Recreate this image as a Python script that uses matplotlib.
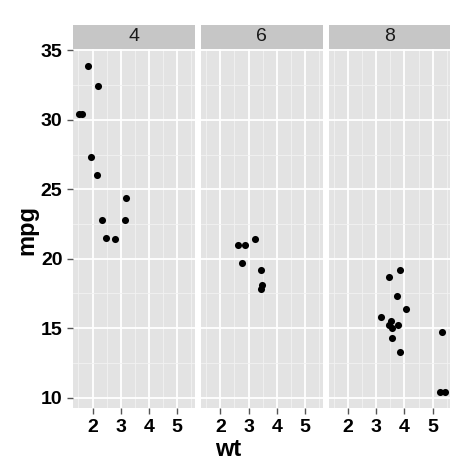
import matplotlib
matplotlib.use("Agg")
import matplotlib.pyplot as plt
import numpy as np

# mtcars: wt vs mpg faceted by cyl
cyl_levels = ["4", "6", "8"]
wt_4 = [2.320, 3.190, 3.150, 2.200, 1.615, 1.835, 2.465, 1.935, 2.140, 1.513, 2.780]
mpg_4 = [22.8, 24.4, 22.8, 32.4, 30.4, 33.9, 21.5, 27.3, 26.0, 30.4, 21.4]
wt_6 = [2.620, 2.875, 3.215, 3.460, 3.440, 3.440, 2.770]
mpg_6 = [21.0, 21.0, 21.4, 18.1, 19.2, 17.8, 19.7]
wt_8 = [3.440, 3.570, 4.070, 3.730, 3.780, 5.250, 5.424, 5.345, 3.520, 3.435, 3.840, 3.845, 3.170, 3.570]
mpg_8 = [18.7, 14.3, 16.4, 17.3, 15.2, 10.4, 10.4, 14.7, 15.5, 15.2, 13.3, 19.2, 15.8, 15.0]
x_ticks = [2, 3, 4, 5]
y_ticks = [10, 15, 20, 25, 30, 35]

groups = [(wt_4, mpg_4), (wt_6, mpg_6), (wt_8, mpg_8)]

all_wt = wt_4 + wt_6 + wt_8
all_mpg = mpg_4 + mpg_6 + mpg_8
xr = max(all_wt) - min(all_wt)
yr = max(all_mpg) - min(all_mpg)
xlim = (min(all_wt) - 0.05 * xr, max(all_wt) + 0.05 * xr)
ylim = (min(all_mpg) - 0.05 * yr, max(all_mpg) + 0.05 * yr)

W = H = 474
fig = plt.figure(figsize=(W / 100, H / 100), dpi=100)
fig.patch.set_facecolor("white")

font = "Liberation Sans"
panel_lefts = [73.3, 201.0, 328.7]
pw = 121.5
ptop, pbot = 49.3, 408.3
stop = 23.7

for i, (lab, (xs, ys)) in enumerate(zip(cyl_levels, groups)):
    l = panel_lefts[i]
    ax = fig.add_axes([l / W, 1 - pbot / H, pw / W, (pbot - ptop) / H])
    ax.set_facecolor("#E3E3E3")
    ax.set_xlim(*xlim)
    ax.set_ylim(*ylim)
    ax.set_xticks(x_ticks)
    ax.set_yticks(y_ticks)
    ax.set_xticks([1.5, 2.5, 3.5, 4.5, 5.5], minor=True)
    ax.set_yticks([12.5, 17.5, 22.5, 27.5, 32.5], minor=True)
    ax.grid(which="major", color="white", lw=1.3)
    ax.grid(which="minor", color="#F2F2F2", lw=0.6)
    ax.set_axisbelow(True)
    for s in ax.spines.values():
        s.set_visible(False)
    ax.tick_params(which="minor", length=0)
    ax.tick_params(which="major", length=4.3, width=1.0, color="#555555", pad=3.5,
                   labelsize=14)
    ax.set_xticklabels([str(t) for t in x_ticks], fontfamily=font, fontweight="bold")
    if i == 0:
        ax.set_yticklabels([str(t) for t in y_ticks], fontfamily=font, fontweight="bold")
    else:
        ax.tick_params(axis="y", length=0, labelleft=False)
    ax.scatter(xs, ys, s=26, color="black", zorder=3, linewidths=0)

    sax = fig.add_axes([l / W, 1 - ptop / H + 0.5 / H, pw / W, (ptop - stop - 1.5) / H])
    sax.set_facecolor("#C6C6C6")
    sax.set_xticks([])
    sax.set_yticks([])
    for s in sax.spines.values():
        s.set_visible(False)
    sax.text(0.5, 0.5, lab, ha="center", va="center", fontsize=14,
             fontfamily=font, color="#1A1A1A", transform=sax.transAxes)

fig.text(228 / W, 1 - 449 / H, "wt", ha="center", va="center", fontsize=17,
         fontweight="bold", fontfamily=font)
fig.text(27 / W, 1 - 230 / H, "mpg", ha="center", va="center", fontsize=17,
         fontweight="bold", fontfamily=font, rotation=90)

fig.savefig("out.png", dpi=100)
